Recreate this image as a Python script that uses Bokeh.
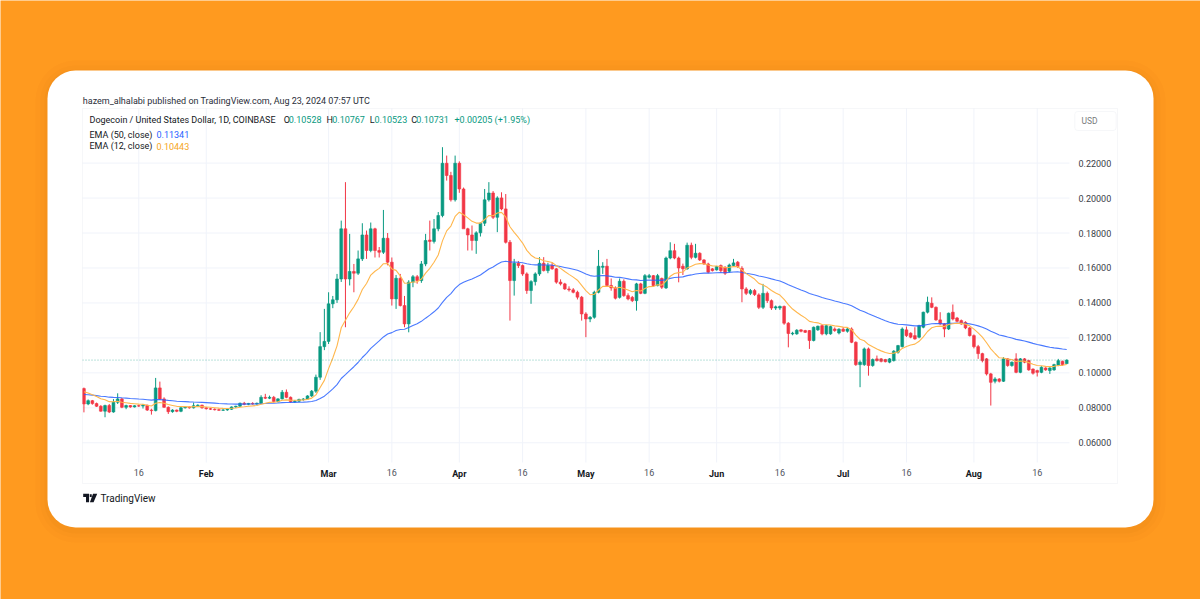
import pandas as pd
from bokeh.plotting import figure
from bokeh.models import (ColumnDataSource, Range1d, FixedTicker, PrintfTickFormatter,
                          LinearAxis, DatetimeAxis, DatetimeTickFormatter, BoxAnnotation,
                          Label, PolyAnnotation)
from bokeh.embed import file_html
from bokeh.resources import INLINE

# ---------------- data ----------------
first_day = "2024-01-03"
last_day = "2024-08-23"

opens = [
    0.0910, 0.0822, 0.0841, 0.0824, 0.0809, 0.0781, 0.0813, 0.0776, 0.0832, 0.0851,
    0.0803, 0.0813, 0.0805, 0.0812, 0.0810, 0.0815, 0.0787, 0.0784, 0.0914, 0.0851,
    0.0803, 0.0778, 0.0787, 0.0780, 0.0800, 0.0804, 0.0800, 0.0812, 0.0815, 0.0800,
    0.0795, 0.0792, 0.0789, 0.0786, 0.0788, 0.0792, 0.0805, 0.0809, 0.0826, 0.0820,
    0.0825, 0.0822, 0.0826, 0.0860, 0.0855, 0.0860, 0.0836, 0.0851, 0.0889, 0.0860,
    0.0835, 0.0838, 0.0848, 0.0850, 0.0868, 0.0895, 0.0975, 0.1150, 0.1180, 0.1395,
    0.1418, 0.1537, 0.1824, 0.1537, 0.1580, 0.1570, 0.1652, 0.1789, 0.1700, 0.1824,
    0.1700, 0.1690, 0.1770, 0.1633, 0.1423, 0.1541, 0.1385, 0.1280, 0.1519, 0.1550,
    0.1528, 0.1623, 0.1760, 0.1752, 0.1824, 0.1900, 0.2199, 0.2129, 0.1990, 0.2199,
    0.2052, 0.1824, 0.1789, 0.1757, 0.1801, 0.1856, 0.1990, 0.2029, 0.1890, 0.2001,
    0.1938, 0.1747, 0.1528, 0.1627, 0.1614, 0.1566, 0.1471, 0.1522, 0.1566, 0.1627,
    0.1585, 0.1614, 0.1595, 0.1519, 0.1509, 0.1480, 0.1475, 0.1461, 0.1433, 0.1337,
    0.1308, 0.1318, 0.1461, 0.1604, 0.1610, 0.1500, 0.1486, 0.1432, 0.1524, 0.1442,
    0.1432, 0.1413, 0.1509, 0.1455, 0.1547, 0.1556, 0.1499, 0.1540, 0.1486, 0.1657,
    0.1699, 0.1657, 0.1610, 0.1595, 0.1730, 0.1661, 0.1684, 0.1646, 0.1623, 0.1595,
    0.1589, 0.1614, 0.1604, 0.1581, 0.1614, 0.1633, 0.1598, 0.1480, 0.1455, 0.1471,
    0.1446, 0.1375, 0.1455, 0.1413, 0.1371, 0.1371, 0.1380, 0.1284, 0.1223, 0.1223,
    0.1246, 0.1242, 0.1242, 0.1185, 0.1246, 0.1270, 0.1223, 0.1223, 0.1251, 0.1228,
    0.1250, 0.1238, 0.1251, 0.1175, 0.1047, 0.1047, 0.1137, 0.1042, 0.1080, 0.1080,
    0.1076, 0.1061, 0.1070, 0.1118, 0.1150, 0.1246, 0.1227, 0.1213, 0.1204, 0.1261,
    0.1347, 0.1398, 0.1375, 0.1303, 0.1280, 0.1251, 0.1347, 0.1314, 0.1299, 0.1289,
    0.1257, 0.1213, 0.1150, 0.1110, 0.1080, 0.0994, 0.0952, 0.0965, 0.0952, 0.1080,
    0.1042, 0.1080, 0.1003, 0.1080, 0.1070, 0.1022, 0.1013, 0.1003, 0.1028, 0.1013,
    0.1017, 0.1042, 0.1066, 0.10528,
]
highs = [
    0.0916, 0.0848, 0.0845, 0.0830, 0.0815, 0.0818, 0.0822, 0.0850, 0.0883, 0.0856,
    0.0818, 0.0816, 0.0815, 0.0818, 0.0822, 0.0818, 0.0795, 0.0971, 0.0950, 0.0860,
    0.0808, 0.0792, 0.0790, 0.0805, 0.0808, 0.0808, 0.0830, 0.0820, 0.0818, 0.0805,
    0.0800, 0.0797, 0.0796, 0.0792, 0.0795, 0.0808, 0.0812, 0.0830, 0.0834, 0.0828,
    0.0832, 0.0830, 0.0872, 0.0880, 0.0870, 0.0868, 0.0855, 0.0902, 0.0905, 0.0865,
    0.0845, 0.0852, 0.0856, 0.0872, 0.0902, 0.0990, 0.1233, 0.1366, 0.1461, 0.1440,
    0.1566, 0.1871, 0.2091, 0.1795, 0.1623, 0.1700, 0.1856, 0.1814, 0.1860, 0.1830,
    0.1720, 0.1932, 0.1800, 0.1660, 0.1560, 0.1566, 0.1440, 0.1530, 0.1560, 0.1560,
    0.1640, 0.1795, 0.1871, 0.1880, 0.1920, 0.2291, 0.2243, 0.2150, 0.2243, 0.2210,
    0.2060, 0.1830, 0.1843, 0.1810, 0.1860, 0.2052, 0.2091, 0.2040, 0.2010, 0.2033,
    0.2023, 0.1760, 0.1652, 0.1640, 0.1620, 0.1575, 0.1530, 0.1575, 0.1662, 0.1662,
    0.1630, 0.1630, 0.1600, 0.1535, 0.1515, 0.1495, 0.1485, 0.1470, 0.1440, 0.1347,
    0.1325, 0.1470, 0.1703, 0.1633, 0.1652, 0.1540, 0.1495, 0.1540, 0.1535, 0.1455,
    0.1440, 0.1515, 0.1515, 0.1565, 0.1566, 0.1560, 0.1566, 0.1545, 0.1665, 0.1747,
    0.1738, 0.1665, 0.1625, 0.1745, 0.1745, 0.1738, 0.1690, 0.1650, 0.1630, 0.1600,
    0.1612, 0.1620, 0.1610, 0.1625, 0.1652, 0.1640, 0.1610, 0.1490, 0.1480, 0.1480,
    0.1455, 0.1509, 0.1465, 0.1420, 0.1385, 0.1385, 0.1385, 0.1290, 0.1235, 0.1250,
    0.1250, 0.1246, 0.1245, 0.1265, 0.1270, 0.1275, 0.1275, 0.1270, 0.1260, 0.1255,
    0.1262, 0.1258, 0.1260, 0.1180, 0.1070, 0.1145, 0.1145, 0.1082, 0.1099, 0.1085,
    0.1080, 0.1085, 0.1130, 0.1160, 0.1260, 0.1265, 0.1232, 0.1261, 0.1275, 0.1350,
    0.1436, 0.1432, 0.1380, 0.1347, 0.1285, 0.1345, 0.1391, 0.1320, 0.1305, 0.1295,
    0.1262, 0.1220, 0.1160, 0.1115, 0.1085, 0.1000, 0.0975, 0.0970, 0.1090, 0.1085,
    0.1065, 0.1112, 0.1085, 0.1085, 0.1075, 0.1025, 0.1018, 0.1038, 0.1032, 0.1032,
    0.1052, 0.1080, 0.1070, 0.10767,
]
lows = [
    0.0774, 0.0815, 0.0818, 0.0805, 0.0778, 0.0746, 0.0770, 0.0772, 0.0822, 0.0798,
    0.0792, 0.0800, 0.0802, 0.0805, 0.0796, 0.0782, 0.0761, 0.0780, 0.0845, 0.0800,
    0.0765, 0.0772, 0.0775, 0.0775, 0.0796, 0.0795, 0.0796, 0.0805, 0.0795, 0.0790,
    0.0788, 0.0785, 0.0783, 0.0782, 0.0783, 0.0788, 0.0800, 0.0805, 0.0815, 0.0815,
    0.0818, 0.0818, 0.0822, 0.0850, 0.0850, 0.0830, 0.0830, 0.0848, 0.0855, 0.0828,
    0.0828, 0.0832, 0.0840, 0.0845, 0.0862, 0.0885, 0.0960, 0.1130, 0.1165, 0.1370,
    0.1400, 0.1520, 0.1261, 0.1500, 0.1461, 0.1560, 0.1640, 0.1652, 0.1690, 0.1660,
    0.1660, 0.1680, 0.1615, 0.1385, 0.1366, 0.1380, 0.1261, 0.1232, 0.1490, 0.1510,
    0.1515, 0.1610, 0.1700, 0.1740, 0.1810, 0.1890, 0.2100, 0.1980, 0.1980, 0.2030,
    0.1880, 0.1700, 0.1700, 0.1681, 0.1780, 0.1840, 0.1980, 0.1880, 0.1805, 0.1930,
    0.1740, 0.1299, 0.1442, 0.1600, 0.1555, 0.1452, 0.1395, 0.1500, 0.1555, 0.1580,
    0.1570, 0.1590, 0.1510, 0.1500, 0.1475, 0.1465, 0.1455, 0.1420, 0.1299, 0.1204,
    0.1290, 0.1310, 0.1455, 0.1566, 0.1495, 0.1470, 0.1420, 0.1425, 0.1435, 0.1415,
    0.1405, 0.1356, 0.1450, 0.1450, 0.1540, 0.1495, 0.1495, 0.1480, 0.1480, 0.1650,
    0.1650, 0.1518, 0.1560, 0.1590, 0.1650, 0.1655, 0.1640, 0.1618, 0.1570, 0.1580,
    0.1585, 0.1575, 0.1560, 0.1575, 0.1608, 0.1600, 0.1404, 0.1445, 0.1445, 0.1440,
    0.1365, 0.1365, 0.1400, 0.1360, 0.1360, 0.1360, 0.1275, 0.1146, 0.1215, 0.1218,
    0.1232, 0.1228, 0.1137, 0.1180, 0.1240, 0.1215, 0.1215, 0.1218, 0.1235, 0.1220,
    0.1235, 0.1230, 0.1170, 0.1040, 0.0918, 0.1040, 0.0984, 0.1035, 0.1065, 0.1060,
    0.1060, 0.1055, 0.1065, 0.1110, 0.1145, 0.1205, 0.1198, 0.1190, 0.1198, 0.1255,
    0.1340, 0.1370, 0.1298, 0.1275, 0.1204, 0.1245, 0.1300, 0.1290, 0.1275, 0.1250,
    0.1208, 0.1140, 0.1080, 0.1060, 0.0985, 0.0813, 0.0940, 0.0945, 0.0948, 0.1035,
    0.1035, 0.0998, 0.0998, 0.1055, 0.1012, 0.0990, 0.0979, 0.0998, 0.1012, 0.0994,
    0.1012, 0.1038, 0.1040, 0.10523,
]
closes = [
    0.0822, 0.0841, 0.0824, 0.0809, 0.0781, 0.0813, 0.0776, 0.0832, 0.0851, 0.0803,
    0.0813, 0.0805, 0.0812, 0.0810, 0.0815, 0.0787, 0.0784, 0.0914, 0.0851, 0.0803,
    0.0778, 0.0787, 0.0780, 0.0800, 0.0804, 0.0800, 0.0812, 0.0815, 0.0800, 0.0795,
    0.0792, 0.0789, 0.0786, 0.0788, 0.0792, 0.0805, 0.0809, 0.0826, 0.0820, 0.0825,
    0.0822, 0.0826, 0.0860, 0.0855, 0.0860, 0.0836, 0.0851, 0.0889, 0.0860, 0.0835,
    0.0838, 0.0848, 0.0850, 0.0868, 0.0895, 0.0975, 0.1150, 0.1180, 0.1395, 0.1418,
    0.1537, 0.1824, 0.1537, 0.1580, 0.1570, 0.1652, 0.1789, 0.1700, 0.1824, 0.1700,
    0.1690, 0.1770, 0.1633, 0.1423, 0.1541, 0.1385, 0.1280, 0.1519, 0.1550, 0.1528,
    0.1623, 0.1757, 0.1752, 0.1824, 0.1900, 0.2199, 0.2129, 0.1990, 0.2199, 0.2052,
    0.1824, 0.1789, 0.1757, 0.1801, 0.1856, 0.1990, 0.2029, 0.1890, 0.2001, 0.1938,
    0.1747, 0.1528, 0.1627, 0.1614, 0.1566, 0.1471, 0.1522, 0.1566, 0.1627, 0.1585,
    0.1614, 0.1595, 0.1519, 0.1509, 0.1480, 0.1475, 0.1461, 0.1433, 0.1337, 0.1308,
    0.1318, 0.1461, 0.1610, 0.1610, 0.1500, 0.1486, 0.1427, 0.1524, 0.1442, 0.1423,
    0.1413, 0.1509, 0.1455, 0.1556, 0.1556, 0.1499, 0.1556, 0.1490, 0.1657, 0.1699,
    0.1657, 0.1600, 0.1595, 0.1730, 0.1661, 0.1684, 0.1646, 0.1623, 0.1576, 0.1585,
    0.1608, 0.1585, 0.1570, 0.1617, 0.1629, 0.1608, 0.1480, 0.1455, 0.1471, 0.1448,
    0.1375, 0.1455, 0.1413, 0.1371, 0.1378, 0.1380, 0.1284, 0.1225, 0.1227, 0.1244,
    0.1238, 0.1232, 0.1185, 0.1261, 0.1267, 0.1223, 0.1270, 0.1265, 0.1242, 0.1250,
    0.1238, 0.1251, 0.1175, 0.1047, 0.1061, 0.1137, 0.1042, 0.1076, 0.1070, 0.1066,
    0.1064, 0.1080, 0.1124, 0.1156, 0.1251, 0.1213, 0.1204, 0.1194, 0.1270, 0.1347,
    0.1404, 0.1375, 0.1303, 0.1280, 0.1251, 0.1341, 0.1308, 0.1295, 0.1280, 0.1257,
    0.1213, 0.1150, 0.1110, 0.1070, 0.0994, 0.0946, 0.0965, 0.0952, 0.1080, 0.1042,
    0.1061, 0.1003, 0.1080, 0.1061, 0.1017, 0.0998, 0.1003, 0.1032, 0.1017, 0.1028,
    0.1047, 0.1070, 0.1047, 0.10731,
]

# EMA values just before the first visible candle (read at the chart's left edge)
ema50_start = 0.0878
ema12_start = 0.0905

header_text = "hazem_alhalabi published on TradingView.com, Aug 23, 2024 07:57 UTC"
symbol_text = "Dogecoin / United States Dollar, 1D, COINBASE"
ohlc_letters = ["O", "H", "L", "C"]
ohlc_values = ["0.10528", "0.10767", "0.10523", "0.10731"]
change_text = "+0.00205 (+1.95%)"
ema_names = ["EMA (50, close)", "EMA (12, close)"]
ema_values = ["0.11341", "0.10443"]
currency = "USD"
brand = "TradingView"
last_close = 0.10731

price_ticks = [0.06, 0.08, 0.10, 0.12, 0.14, 0.16, 0.18, 0.20, 0.22]
month_ticks = ["2024-02-01", "2024-03-01", "2024-04-01", "2024-05-01",
               "2024-06-01", "2024-07-01", "2024-08-01"]
mid_ticks = ["2024-01-16", "2024-03-16", "2024-04-16", "2024-05-16",
             "2024-06-16", "2024-07-16", "2024-08-16"]

# ---------------- derived ----------------
dates = pd.date_range(first_day, last_day, freq="D")


def ema(values, length, start):
    k = 2.0 / (length + 1)
    out, e = [], start
    for v in values:
        e = v * k + e * (1 - k)
        out.append(e)
    return out


ema50 = ema(closes, 50, ema50_start)
ema12 = ema(closes, 12, ema12_start)

UP, DOWN = "#089981", "#F23645"
colors = [UP if c >= o else DOWN for o, c in zip(opens, closes)]
src = ColumnDataSource(dict(
    date=dates, open=opens, high=highs, low=lows, close=closes,
    top=[max(o, c) for o, c in zip(opens, closes)],
    bottom=[min(o, c) for o, c in zip(opens, closes)],
    color=colors))

# ---------------- page geometry (pixels of the 1200x599 page) ----------------
W, H = 1200, 599
DAY_MS = 86400000.0
jan1_ms = pd.Timestamp("2024-01-01").value / 1e6
X_ORIGIN_PX, PX_PER_DAY = 75.0, 4.218        # where Jan 1 sits and day spacing
Y_REF_PX, Y_REF_VAL, PX_PER_UNIT = 162.6, 0.22, 1748.0


def px_x(sx):
    return jan1_ms + (sx - X_ORIGIN_PX) / PX_PER_DAY * DAY_MS


def px_y(sy):
    return Y_REF_VAL - (sy - Y_REF_PX) / PX_PER_UNIT


# chart pane (plot area) and outer box
PL, PR, PT, PB = 82, 1069, 108, 462
BOX_R, BOX_B = 1117, 483

FONT = "Roboto"
TXT = "#131722"

p = figure(width=W, height=H, title=None, x_axis_type="datetime",
           x_axis_location=None, y_axis_location=None,
           x_range=Range1d(px_x(0), px_x(W)), y_range=Range1d(px_y(H), px_y(0)),
           output_backend="svg", toolbar_location=None,
           min_border=0, min_border_left=0, min_border_right=0,
           min_border_top=0, min_border_bottom=0)
p.xgrid.visible = False
p.ygrid.visible = False
p.background_fill_color = "#FF9A1F"
p.border_fill_color = "#FF9A1F"
p.outline_line_color = None

# soft shadow + white card
for grow, alpha in [(12, 0.018), (7, 0.025), (3, 0.035)]:
    p.add_layout(BoxAnnotation(left=px_x(47 - grow), right=px_x(1153 + grow),
                               top=px_y(72 - grow), bottom=px_y(530 + grow),
                               fill_color="#8a4a00", fill_alpha=alpha, line_color=None,
                               border_radius=28 + grow, level="image"))
p.add_layout(BoxAnnotation(left=px_x(47), right=px_x(1153), top=px_y(70), bottom=px_y(527),
                           fill_color="white", fill_alpha=1, line_color=None,
                           border_radius=28, level="image"))

# grid lines inside the chart pane
all_x_ticks = sorted([pd.Timestamp(t).value / 1e6 for t in month_ticks + mid_ticks])
GRID = "#f0f3fa"
p.segment(x0=[px_x(PL)] * len(price_ticks), y0=price_ticks,
          x1=[px_x(PR)] * len(price_ticks), y1=price_ticks, line_color=GRID, line_width=1)
p.segment(x0=all_x_ticks, y0=[px_y(PT)] * len(all_x_ticks),
          x1=all_x_ticks, y1=[px_y(PB)] * len(all_x_ticks), line_color=GRID, line_width=1)

# price axis (drawn at the pane's right edge)
ya = LinearAxis(fixed_location=px_x(PR), ticker=FixedTicker(ticks=price_ticks),
                formatter=PrintfTickFormatter(format="%.5f"))
p.add_layout(ya, "right")


def fmt(s):
    return DatetimeTickFormatter(microseconds=s, milliseconds=s, seconds=s, minsec=s,
                                 minutes=s, hourmin=s, hours=s, days=s, months=s, years=s)


xa = DatetimeAxis(fixed_location=px_y(PB),
                  ticker=FixedTicker(ticks=[pd.Timestamp(t).value / 1e6 for t in month_ticks]),
                  formatter=fmt("%b"))
xd = DatetimeAxis(fixed_location=px_y(PB),
                  ticker=FixedTicker(ticks=[pd.Timestamp(t).value / 1e6 for t in mid_ticks]),
                  formatter=fmt("%d"))
p.add_layout(xa, "below")
p.add_layout(xd, "below")

for ax, standoff in [(ya, 9), (xa, 6), (xd, 6)]:
    ax.axis_line_color = None
    ax.major_tick_line_color = None
    ax.minor_tick_line_color = None
    ax.major_tick_out = 0
    ax.major_tick_in = 0
    ax.major_label_standoff = standoff
    ax.major_label_text_font = FONT
    ax.major_label_text_font_size = "9px"
    ax.major_label_text_color = TXT
ya.major_label_text_color = "#3a3e48"
xa.major_label_text_font_style = "bold"
xd.major_label_text_color = "#50535e"

# candles
p.segment(x0="date", y0="low", x1="date", y1="high", color="color", line_width=1, source=src)
p.vbar(x="date", width=0.66 * DAY_MS, top="top", bottom="bottom",
       fill_color="color", line_color="color", line_width=0.6, source=src)

# EMAs
p.line(dates, ema50, line_color="#2962FF", line_width=1.1, line_alpha=0.85)
p.line(dates, ema12, line_color="#FFB74D", line_width=1.1)

# last price dotted line across the pane
p.segment(x0=[px_x(PL)], y0=[last_close], x1=[px_x(PR)], y1=[last_close],
          line_color=UP, line_alpha=0.55, line_dash="1 2", line_width=1)

# chart border
p.add_layout(BoxAnnotation(left=px_x(PL), right=px_x(BOX_R), top=px_y(PT), bottom=px_y(BOX_B),
                           fill_color=None, line_color="#e0e3eb", line_width=1, level="overlay"))

# USD box
p.add_layout(BoxAnnotation(left=px_x(1074.3), right=px_x(1115.7), top=px_y(111), bottom=px_y(130),
                           fill_color="white", line_color="#e0e3eb", line_width=1,
                           border_radius=3, level="overlay"))


def label(sx, sy, text, color=TXT, size="9px", style="normal", align="left"):
    p.add_layout(Label(x=px_x(sx), y=px_y(sy), text=text, text_font=FONT, text_font_size=size,
                       text_color=color, text_baseline="middle", text_align=align,
                       text_font_style=style))


label(82.3, 100, header_text, color="#2a2e39")
label(89, 119.3, symbol_text)
for sx, letter in zip([283.3, 326, 369.3, 410.7], ohlc_letters):
    label(sx, 119.3, letter)
for sx, val in zip([288.3, 331.7, 374, 415.7], ohlc_values):
    label(sx, 119.3, val, color=UP)
label(454, 119.3, change_text, color=UP)
label(89, 134, ema_names[0])
label(156, 134, ema_values[0], color="#2962FF")
label(89, 145.7, ema_names[1])
label(156, 145.7, ema_values[1], color="#F5A623")
label(1081, 120.5, currency, size="8.5px")
label(100, 497.7, brand, size="10px")

# TradingView mark
lx, ly, lw, lh = 82.7, 493.3, 14.0, 8.5
shapes = [
    [(0, 0), (0.42, 0), (0.42, 1), (0.2, 1), (0.2, 0.38), (0, 0.38)],
    [(0.47, 0.04), (0.61, 0.04), (0.61, 0.38), (0.47, 0.38)],
    [(0.7, 0), (1.0, 0), (0.74, 1), (0.48, 1)],
]
for shp in shapes:
    p.add_layout(PolyAnnotation(xs=[px_x(lx + a * lw) for a, b in shp],
                                ys=[px_y(ly + b * lh) for a, b in shp],
                                fill_color=TXT, fill_alpha=1, line_color=None, level="overlay"))

open("out.html", "w").write(file_html(p, INLINE))
